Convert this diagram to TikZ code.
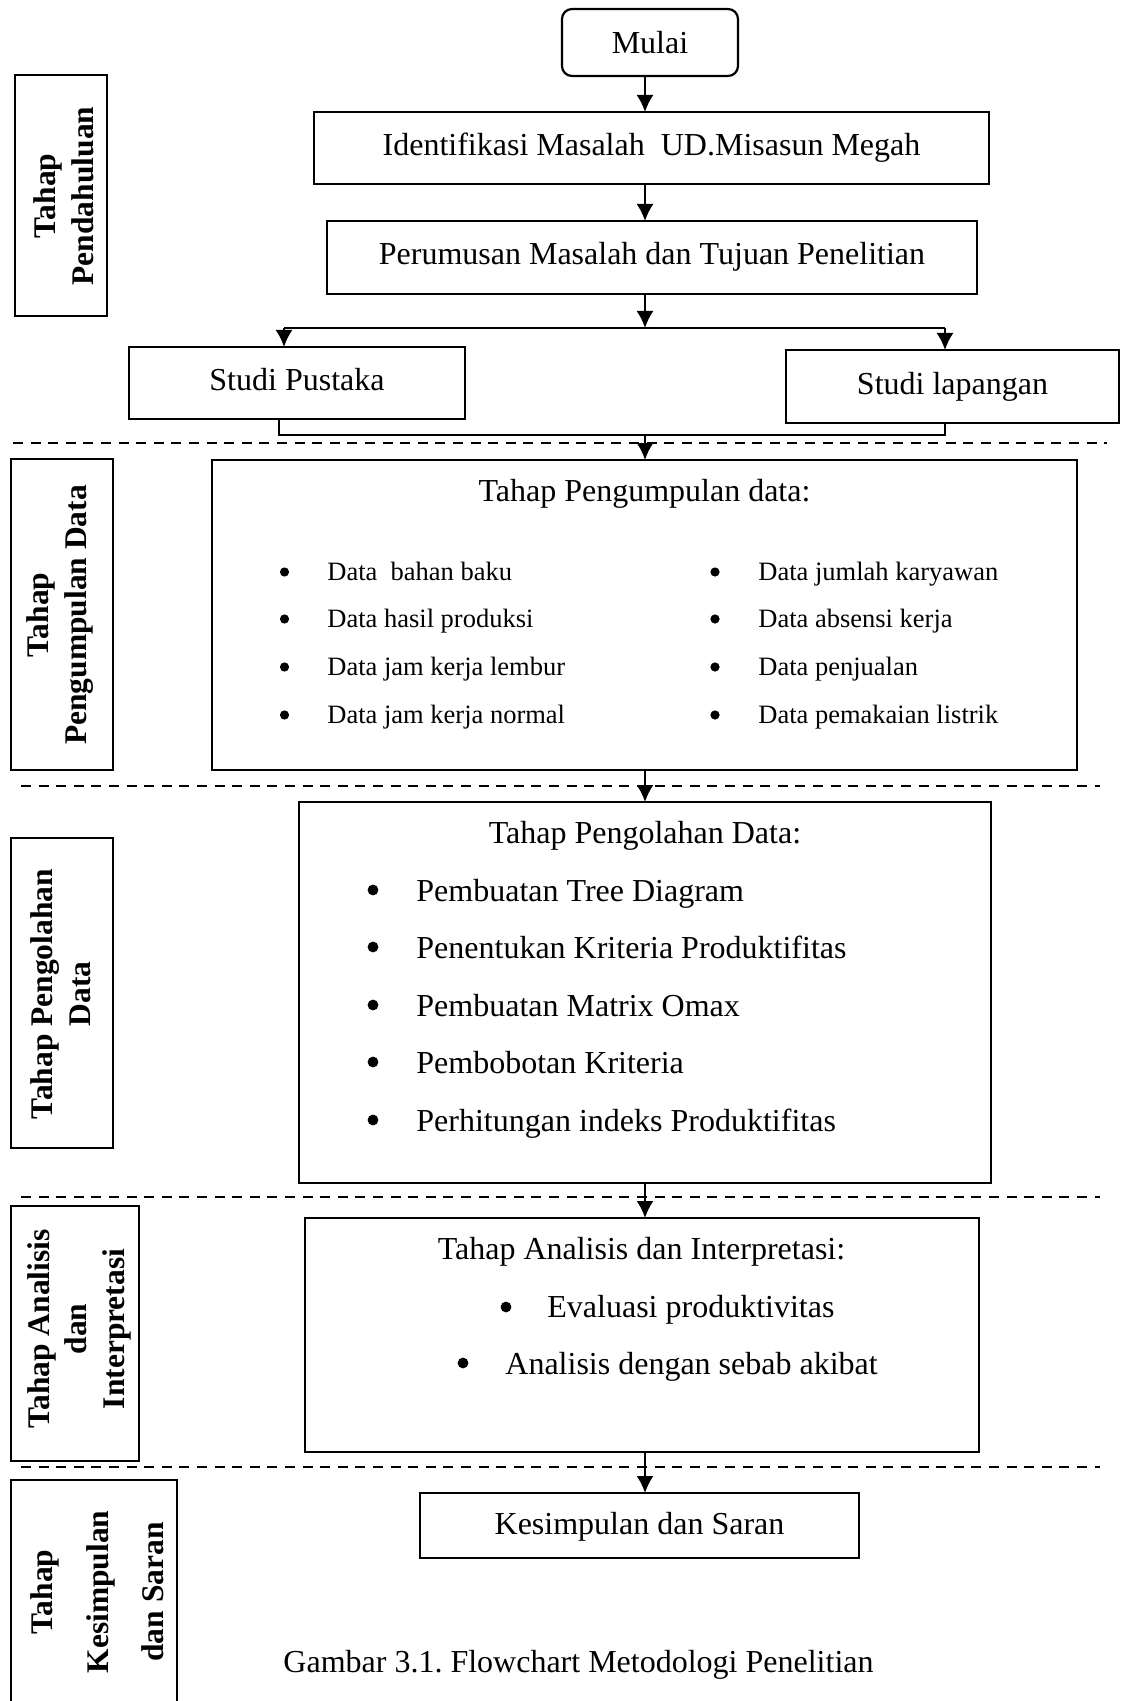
\documentclass[tikz,border=0pt]{standalone}
\usepackage{fontspec}
\setmainfont{Liberation Serif}[Ligatures={TeX,NoCommon}]
\usetikzlibrary{arrows.meta}
\newcommand\fsMain{\fontsize{16pt}{19pt}\selectfont}
\newcommand\fsSmall{\fontsize{13.25pt}{16pt}\selectfont}
\newcommand\fsLab{\fontsize{15.75pt}{19pt}\selectfont\bfseries}
\frenchspacing
\begin{document}
\begin{tikzpicture}[x=0.5pt,y=-0.5pt,
  box/.style={draw,line width=1.1pt,inner sep=0pt,outer sep=0pt,font=\fsMain,
    text height=11pt,text depth=3.5pt},
  frame/.style={draw,line width=1.1pt,inner sep=0pt,outer sep=0pt},
  labtext/.style={inner sep=0pt,align=center,rotate=90},
  txt/.style={inner sep=0pt,font=\fsMain},
  item/.style={inner sep=0pt,font=\fsSmall,anchor=base west},
  bigitem/.style={inner sep=0pt,font=\fsMain,anchor=base west},
  arr/.style={-{Latex[length=8.5pt,width=8.5pt]},line width=1pt},
  conn/.style={line width=1pt},
  sepline/.style={dash pattern=on 5pt off 3.8pt,line width=1.4pt}]
\useasboundingbox (0,0) rectangle (1121,1701);
\clip (0,0) rectangle (1121,1701);
\fill[white] (0,0) rectangle (1121,1701);

% spine of the main flow
\coordinate (spine) at (645,0);

% ---------- boxes of the main flow ----------
\node[box,rounded corners=5pt,minimum width=88pt,minimum height=33.5pt,text depth=0pt] (mulai) at (650,42.5) {Mulai};
\node[box,minimum width=337.5pt,minimum height=36pt] (ident) at (651.5,148) {Identifikasi Masalah\ \ UD.Misasun Megah};
\node[box,minimum width=325pt,minimum height=36.5pt] (perum) at (652,257.5) {Perumusan Masalah dan Tujuan Penelitian};
\node[box,minimum width=168pt,minimum height=36pt] (pustaka) at (297,383) {Studi Pustaka};
\node[box,minimum width=166.5pt,minimum height=36.5pt] (lapangan) at (952.5,386.5) {Studi lapangan};

\node[frame,minimum width=432.5pt,minimum height=155pt] (kumpul) at (644.5,615) {};
\node[frame,minimum width=346pt,minimum height=190.5pt] (olah) at (645,992.5) {};
\node[frame,minimum width=337pt,minimum height=117pt] (analisis) at (642,1335) {};
\node[box,minimum width=219.5pt,minimum height=32.5pt,text depth=2pt] (simpul) at (639.5,1525.5) {Kesimpulan dan Saran};

% ---------- stage labels ----------
\node[frame,minimum width=46pt,minimum height=120.5pt] (lab1) at (61,195.5) {};
\node[labtext,font=\fsLab] (lab1t) at (64,196) {Tahap\\Pendahuluan};
\node[frame,minimum width=51pt,minimum height=155.5pt] (lab2) at (62,614.5) {};
\node[labtext,font=\fsLab] (lab2t) at (60,615) {Tahap\\Pengumpulan Data};
\node[frame,minimum width=51pt,minimum height=155pt] (lab3) at (62,993) {};
\node[labtext,font=\fsLab] (lab3t) at (61,994) {Tahap Pengolahan\\Data};
\node[frame,minimum width=64pt,minimum height=127.5pt] (lab4) at (75,1333.5) {};
\node[labtext,font={\fontsize{15.75pt}{18.75pt}\selectfont\bfseries}] (lab4t) at (79,1329) {Tahap Analisis\\dan\\Interpretasi};
\node[frame,minimum width=83pt,minimum height=120pt] (lab5) at (94,1600) {};
\node[labtext,font={\fontsize{15.75pt}{27.75pt}\selectfont\bfseries}] (lab5t) at (97.5,1592) {Tahap\\Kesimpulan\\dan Saran};

% ---------- separators ----------
\draw[sepline] (13,443) -- (1107,443);
\draw[sepline] (21,786) -- (1100,786);
\draw[sepline] (21,1197) -- (1100,1197);
\draw[sepline] (21,1467) -- (1100,1467);

% ---------- contents: pengumpulan ----------
\node[txt,anchor=base] (kt) at (644.5,501) {Tahap Pengumpulan data:};
\node[item] (k1) at (327,580.5) {Data\ \ bahan baku};
\node[item] (k2) at (327,627.5) {Data hasil produksi};
\node[item] (k3) at (327,675.5) {Data jam kerja lembur};
\node[item] (k4) at (327,723.5) {Data jam kerja normal};
\node[item] (k5) at (758,580.5) {Data jumlah karyawan};
\node[item] (k6) at (758,627.5) {Data absensi kerja};
\node[item] (k7) at (758,675.5) {Data penjualan};
\node[item] (k8) at (758,723.5) {Data pemakaian listrik};
\foreach \yy in {572,619,667,715}{
  \fill (284.5,\yy) circle[radius=2.3pt];
  \fill (715,\yy) circle[radius=2.3pt];
}

% ---------- contents: pengolahan ----------
\node[txt,anchor=base] (ot) at (645,843) {Tahap Pengolahan Data:};
\node[bigitem] (o1) at (416,901) {Pembuatan Tree Diagram};
\node[bigitem] (o2) at (416,958) {Penentukan Kriteria Produktifitas};
\node[bigitem] (o3) at (416,1016) {Pembuatan Matrix Omax};
\node[bigitem] (o4) at (416,1073) {Pembobotan Kriteria};
\node[bigitem] (o5) at (416,1131) {Perhitungan indeks Produktifitas};
\foreach \yy in {890,947,1005,1062,1120}{
  \fill (373,\yy) circle[radius=2.7pt];
}

% ---------- contents: analisis ----------
\node[txt,anchor=base] (at) at (641.5,1259) {Tahap Analisis dan Interpretasi:};
\node[bigitem] (a1) at (547,1317) {Evaluasi produktivitas};
\node[bigitem] (a2) at (505,1374) {Analisis dengan sebab akibat};
\fill (506,1307) circle[radius=2.7pt];
\fill (463,1363) circle[radius=2.7pt];

% ---------- caption ----------
\node[txt,anchor=base] (cap) at (578.5,1672) {Gambar 3.1. Flowchart Metodologi Penelitian};

% ---------- connectors ----------
\coordinate (split) at (645,328);
\coordinate (splitL) at (284,328);
\coordinate (splitR) at (945,328);
\coordinate (mergeL) at (279,435);
\coordinate (mergeR) at (945,435);

\draw[arr] (mulai.south -| spine) -- (ident.north -| spine);
\draw[arr] (ident.south -| spine) -- (perum.north -| spine);
\draw[arr] (perum.south -| spine) -- (split);
\draw[conn] (splitL) -- (splitR);
\draw[arr] (splitL) -- (pustaka.north -| splitL);
\draw[arr] (splitR) -- (lapangan.north -| splitR);
\draw[conn] (pustaka.south -| mergeL) -- (mergeL) -- (mergeR) -- (lapangan.south -| mergeR);
\draw[arr] (mergeL -| spine) -- (kumpul.north -| spine);
\draw[arr] (kumpul.south -| spine) -- (olah.north -| spine);
\draw[arr] (olah.south -| spine) -- (analisis.north -| spine);
\draw[arr] (analisis.south -| spine) -- (simpul.north -| spine);
\end{tikzpicture}
\end{document}
